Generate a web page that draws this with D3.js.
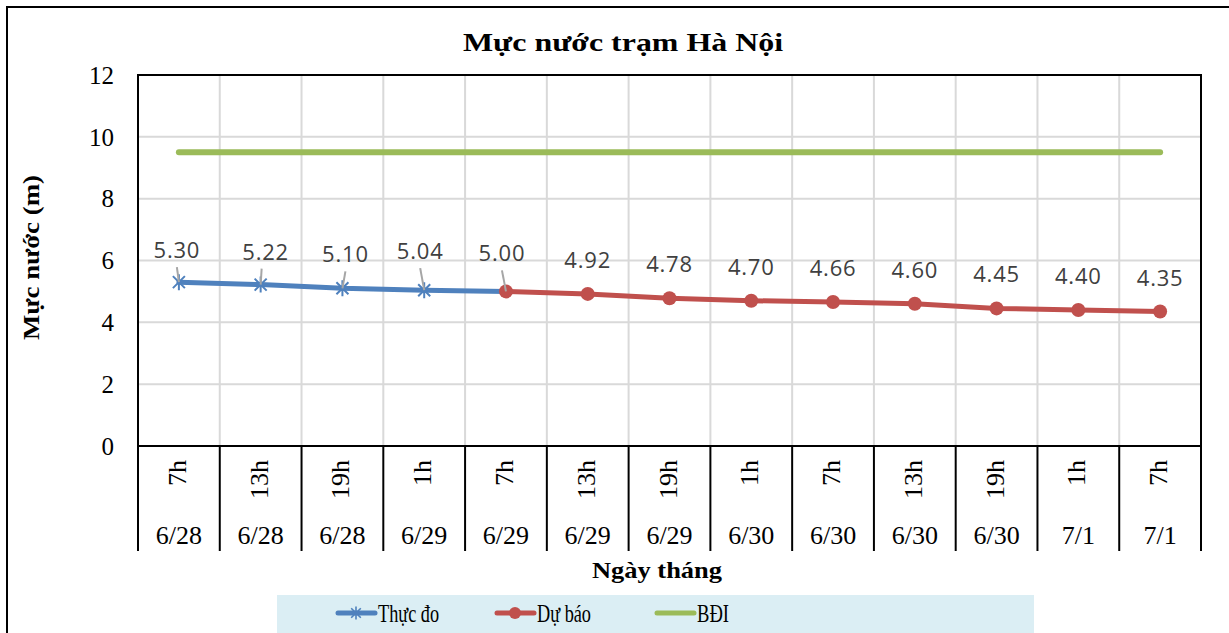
<!DOCTYPE html>
<html>
<head>
<meta charset="utf-8">
<script src="https://cdn.jsdelivr.net/npm/d3@7"></script>
<style>
  body { margin: 0; background: #fff; }
  text { font-family: "Liberation Serif", "Times New Roman", serif; }
  .lbl { font-family: "Open Sans", sans-serif; fill: #404040; letter-spacing: 0.8px; }
</style>
</head>
<body>
<div class="chart"></div>
<script>
// categories (two-level x axis)
const hours = ["7h", "13h", "19h", "1h", "7h", "13h", "19h", "1h", "7h", "13h", "19h", "1h", "7h"];
const dates = ["6/28", "6/28", "6/28", "6/29", "6/29", "6/29", "6/29", "6/30", "6/30", "6/30", "6/30", "7/1", "7/1"];

// series
const thucDo = [5.30, 5.22, 5.10, 5.04, 5.00];            // index 0..4
const duBao = [5.00, 4.92, 4.78, 4.70, 4.66, 4.60, 4.45, 4.40, 4.35]; // index 4..12
const duBaoStart = 4;
const bdi = [9.5, 9.5, 9.5, 9.5, 9.5, 9.5, 9.5, 9.5, 9.5, 9.5, 9.5, 9.5, 9.5];
const yTicks = [0, 2, 4, 6, 8, 10, 12];

const width = 1229, height = 633;
const pLeft = 138, pRight = 1201, pTop = 75, pBottom = 446;

const svg = d3.select(".chart").append("svg")
  .attr("width", width)
  .attr("height", height);

// outer frame (runs past the picture on right/bottom)
svg.append("rect")
  .attr("x", 7).attr("y", 7)
  .attr("width", 1240).attr("height", 660)
  .attr("fill", "none").attr("stroke", "#000").attr("stroke-width", 2);

const x = d3.scaleBand().domain(d3.range(hours.length)).range([pLeft, pRight]);
const cx = (i) => x(i) + x.bandwidth() / 2;
const y = d3.scaleLinear().domain([0, 12]).range([pBottom, pTop]);

// horizontal grid
svg.append("g")
  .selectAll("line")
  .data(yTicks.filter((d) => d > 0 && d < 12))
  .enter()
  .append("line")
  .attr("x1", pLeft).attr("x2", pRight)
  .attr("y1", (d) => y(d)).attr("y2", (d) => y(d))
  .attr("stroke", "#d9d9d9").attr("stroke-width", 2);

// vertical grid at category boundaries
svg.append("g")
  .selectAll("line")
  .data(d3.range(1, hours.length))
  .enter()
  .append("line")
  .attr("x1", (i) => x(i)).attr("x2", (i) => x(i))
  .attr("y1", pTop).attr("y2", pBottom)
  .attr("stroke", "#d9d9d9").attr("stroke-width", 2);

// plot border
svg.append("rect")
  .attr("x", pLeft).attr("y", pTop)
  .attr("width", pRight - pLeft).attr("height", pBottom - pTop)
  .attr("fill", "none").attr("stroke", "#000").attr("stroke-width", 2);

// y axis labels
svg.append("g")
  .selectAll("text")
  .data(yTicks)
  .enter()
  .append("text")
  .attr("x", 114)
  .attr("y", (d) => y(d))
  .attr("dy", "0.35em")
  .attr("text-anchor", "end")
  .attr("font-size", 25)
  .text((d) => d);

// x axis: dividers below the plot
svg.append("g")
  .selectAll("line")
  .data(d3.range(0, hours.length + 1))
  .enter()
  .append("line")
  .attr("x1", (i) => (i < hours.length ? x(i) : pRight))
  .attr("x2", (i) => (i < hours.length ? x(i) : pRight))
  .attr("y1", pBottom).attr("y2", 551)
  .attr("stroke", "#000").attr("stroke-width", 2);

svg.append("g")
  .selectAll("text")
  .data(hours)
  .enter()
  .append("text")
  .attr("transform", (d, i) => `translate(${cx(i) + 7},460) rotate(-90)`)
  .attr("text-anchor", "end")
  .attr("font-size", 26)
  .text((d) => d);

svg.append("g")
  .selectAll("text")
  .data(dates)
  .enter()
  .append("text")
  .attr("x", (d, i) => cx(i))
  .attr("y", 544)
  .attr("text-anchor", "middle")
  .attr("font-size", 26)
  .text((d) => d);

// titles
svg.append("text")
  .attr("x", 463).attr("y", 51)
  .attr("font-size", 26).attr("font-weight", "bold")
  .attr("textLength", 320).attr("lengthAdjust", "spacingAndGlyphs")
  .text("Mực nước trạm Hà Nội");

svg.append("text")
  .attr("x", 592).attr("y", 578)
  .attr("font-size", 24).attr("font-weight", "bold")
  .attr("textLength", 130).attr("lengthAdjust", "spacingAndGlyphs")
  .text("Ngày tháng");

svg.append("text")
  .attr("transform", "translate(39,340) rotate(-90)")
  .attr("font-size", 24).attr("font-weight", "bold")
  .attr("textLength", 165).attr("lengthAdjust", "spacingAndGlyphs")
  .text("Mực nước (m)");

// lines
const line = d3.line().x((d) => cx(d.i)).y((d) => y(d.v));
const bdiPts = bdi.map((v, i) => ({ i, v }));
const tdPts = thucDo.map((v, i) => ({ i, v }));
const dbPts = duBao.map((v, k) => ({ i: k + duBaoStart, v }));

svg.append("path").datum(bdiPts).attr("d", line)
  .attr("fill", "none").attr("stroke", "#9bbb59")
  .attr("stroke-width", 6).attr("stroke-linecap", "round");

svg.append("path").datum(tdPts).attr("d", line)
  .attr("fill", "none").attr("stroke", "#4f81bd")
  .attr("stroke-width", 5).attr("stroke-linecap", "round");

// star markers for measured
const star = "M-6,-6L6,6M-6,6L6,-6M0,-8L0,8";
svg.append("g")
  .selectAll("path")
  .data(tdPts.slice(0, 4))
  .enter()
  .append("path")
  .attr("transform", (d) => `translate(${cx(d.i)},${y(d.v)})`)
  .attr("d", star)
  .attr("stroke", "#4f81bd").attr("stroke-width", 2).attr("fill", "none");

svg.append("path").datum(dbPts).attr("d", line)
  .attr("fill", "none").attr("stroke", "#c0504d")
  .attr("stroke-width", 5).attr("stroke-linecap", "round");

svg.append("g")
  .selectAll("circle")
  .data(dbPts)
  .enter()
  .append("circle")
  .attr("cx", (d) => cx(d.i)).attr("cy", (d) => y(d.v))
  .attr("r", 7)
  .attr("fill", "#c0504d");

// data labels: measured ones sit nudged with leader lines
const tdNudge = [[-2, -24], [5, -25], [3, -26], [-4, -31], [-4, -30]];
svg.append("g")
  .selectAll("line")
  .data(tdPts)
  .enter()
  .append("line")
  .attr("x1", (d, k) => cx(d.i) + tdNudge[k][0] - (k === 1 ? 4 : 0))
  .attr("y1", (d, k) => y(d.v) + tdNudge[k][1] + 9)
  .attr("x2", (d) => cx(d.i))
  .attr("y2", (d) => y(d.v))
  .attr("stroke", "#a6a6a6").attr("stroke-width", 2);

svg.append("g")
  .selectAll("text")
  .data(tdPts)
  .enter()
  .append("text")
  .attr("class", "lbl")
  .attr("x", (d, k) => cx(d.i) + tdNudge[k][0])
  .attr("y", (d, k) => y(d.v) + tdNudge[k][1])
  .attr("text-anchor", "middle")
  .attr("font-size", 22)
  .text((d) => d.v.toFixed(2));

svg.append("g")
  .selectAll("text")
  .data(dbPts.slice(1))
  .enter()
  .append("text")
  .attr("class", "lbl")
  .attr("x", (d) => cx(d.i))
  .attr("y", (d) => y(d.v) - 26)
  .attr("text-anchor", "middle")
  .attr("font-size", 22)
  .text((d) => d.v.toFixed(2));

// legend
const legend = svg.append("g");
legend.append("rect")
  .attr("x", 277).attr("y", 595)
  .attr("width", 757).attr("height", 38)
  .attr("fill", "#dbeef4");

const legendItems = [
  { name: "Thực đo", color: "#4f81bd", x: 338, w: 61, mark: "star" },
  { name: "Dự báo", color: "#c0504d", x: 497, w: 54, mark: "circle" },
  { name: "BĐI", color: "#9bbb59", x: 657, w: 32, mark: "none" }
];
const items = legend.selectAll("g.item")
  .data(legendItems)
  .enter()
  .append("g")
  .attr("class", "item");

items.append("line")
  .attr("x1", (d) => d.x).attr("x2", (d) => d.x + 37)
  .attr("y1", 613).attr("y2", 613)
  .attr("stroke", (d) => d.color)
  .attr("stroke-width", 5).attr("stroke-linecap", "round");

items.filter((d) => d.mark === "circle")
  .append("circle")
  .attr("cx", (d) => d.x + 18).attr("cy", 613).attr("r", 6)
  .attr("fill", (d) => d.color);

items.filter((d) => d.mark === "star")
  .append("path")
  .attr("transform", (d) => `translate(${d.x + 18},613) scale(0.8)`)
  .attr("d", star)
  .attr("stroke", (d) => d.color).attr("stroke-width", 2);

items.append("text")
  .attr("x", (d) => d.x + 40)
  .attr("y", 622)
  .attr("font-size", 26)
  .attr("textLength", (d) => d.w).attr("lengthAdjust", "spacingAndGlyphs")
  .text((d) => d.name);
</script>
</body>
</html>
